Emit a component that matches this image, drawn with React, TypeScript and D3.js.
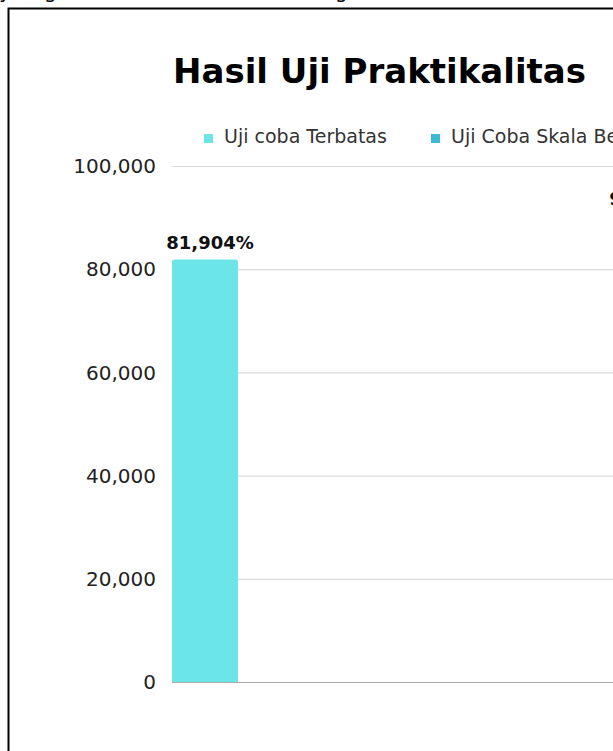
import { useEffect, useRef } from "react"
import * as d3 from "d3"

// chart data
const seriesNames = ["Uji coba Terbatas", "Uji Coba Skala Besar"]
const seriesValues = [81.904, 90.5]
const seriesColors = ["#6ce5e8", "#3fb8d6"]
const yTicks = [0, 20, 40, 60, 80, 100]
const titleText = "Hasil Uji Praktikalitas"

// Indonesian number format: comma as decimal separator
const idLocale = d3.formatLocale({ decimal: ",", thousands: ".", grouping: [3], currency: ["Rp", ""] })
const fmt = idLocale.format(".3f")
const tickFmt = (d: number) => (d === 0 ? "0" : fmt(d))

const App = () => {
  const svgRef = useRef<SVGSVGElement | null>(null)

  useEffect(() => {
    if (!svgRef.current) return
    const svg = d3.select(svgRef.current)
    svg.selectAll("*").remove()

    const W = 613
    const H = 751
    svg.attr("width", W).attr("height", H)

    const font = "'DejaVu Sans', sans-serif"

    // bits of the text line above the frame (only descenders visible)
    const fragments = [
      { t: "y", x: -1 },
      { t: "g", x: 44 },
      { t: "g", x: 335 },
    ]
    svg
      .selectAll(".frag")
      .data(fragments)
      .enter()
      .append("text")
      .attr("x", (d) => d.x)
      .attr("y", -2)
      .attr("font-family", font)
      .attr("font-size", 20)
      .attr("fill", "#000")
      .text((d) => d.t)

    // frame
    svg
      .append("rect")
      .attr("x", 8.5)
      .attr("y", 8.5)
      .attr("width", 800)
      .attr("height", 900)
      .attr("fill", "none")
      .attr("stroke", "#000")
      .attr("stroke-width", 2)

    // title
    svg
      .append("text")
      .attr("x", 173)
      .attr("y", 83)
      .attr("font-family", font)
      .attr("font-weight", "bold")
      .attr("font-size", 34)
      .attr("fill", "#000")
      .text(titleText)

    // legend
    const legend = svg.append("g").attr("transform", "translate(204, 134)")
    seriesNames.forEach((name, i) => {
      const row = legend.append("g").attr("transform", `translate(${i * 227}, 0)`)
      row.append("rect").attr("width", 9).attr("height", 9).attr("fill", seriesColors[i])
      row
        .append("text")
        .attr("x", 20)
        .attr("y", 9)
        .attr("font-family", font)
        .attr("font-size", 19)
        .attr("fill", "#333")
        .text(name)
    })

    // scales
    const yScale = d3.scaleLinear().domain([0, 100]).range([682, 166])
    const xScale = d3.scaleBand<string>().domain(seriesNames).range([172, 681]).paddingInner(0.851).paddingOuter(0)

    // grid lines
    const grid = svg.append("g")
    grid
      .selectAll("line")
      .data(yTicks)
      .enter()
      .append("line")
      .attr("x1", 172)
      .attr("x2", 900)
      .attr("y1", (d) => yScale(d) + 0.5)
      .attr("y2", (d) => yScale(d) + 0.5)
      .attr("stroke", (d) => (d === 0 ? "#ababab" : "#dadada"))
      .attr("stroke-width", 1.2)

    // y labels
    svg
      .append("g")
      .selectAll("text")
      .data(yTicks)
      .enter()
      .append("text")
      .attr("x", 156)
      .attr("y", (d) => yScale(d))
      .attr("dy", "0.36em")
      .attr("text-anchor", "end")
      .attr("font-family", font)
      .attr("font-size", 20)
      .attr("fill", "#222")
      .text((d) => tickFmt(d))

    // bars with rounded top corners
    const r = 3
    const barPath = (x: number, y: number, w: number, h: number) =>
      `M${x},${y + h}V${y + r}Q${x},${y} ${x + r},${y}H${x + w - r}Q${x + w},${y} ${x + w},${y + r}V${y + h}Z`

    seriesNames.forEach((name, i) => {
      const x = xScale(name) ?? 0
      const w = xScale.bandwidth()
      const y = yScale(seriesValues[i])
      svg
        .append("path")
        .attr("d", barPath(x, y, w, yScale(0) - y))
        .attr("fill", seriesColors[i])

      svg
        .append("text")
        .attr("x", x + w / 2 + 5)
        .attr("y", y - 10)
        .attr("text-anchor", "middle")
        .attr("font-family", font)
        .attr("font-weight", "bold")
        .attr("font-size", 18)
        .attr("fill", "#111")
        .text(fmt(seriesValues[i]) + "%")
    })
  }, [])

  return (
    <div style={{ position: "absolute", left: 0, top: 0, width: 613, height: 751, overflow: "hidden", background: "#fff" }}>
      <svg ref={svgRef} width={613} height={751} style={{ display: "block" }}></svg>
    </div>
  )
}

export default App
